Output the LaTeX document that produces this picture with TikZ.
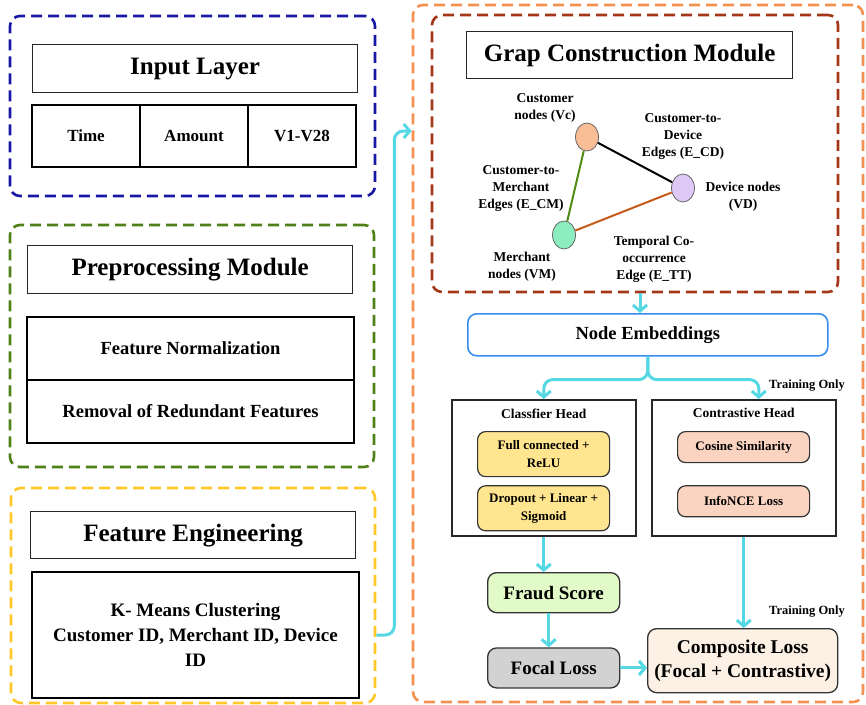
\documentclass[tikz,border=0pt]{standalone}
\usepackage{fontspec}
\setmainfont{Liberation Serif}
\usepackage{tikz}
\usetikzlibrary{shapes.geometric, arrows.meta, positioning, fit, calc}

\definecolor{inblue}{RGB}{24,24,165}
\definecolor{pregreen}{RGB}{78,130,24}
\definecolor{feyellow}{RGB}{255,200,40}
\definecolor{outorange}{RGB}{245,145,80}
\definecolor{graphbrown}{RGB}{165,55,25}
\definecolor{flowcyan}{RGB}{85,215,228}
\definecolor{embblue}{RGB}{55,140,240}
\definecolor{yfill}{RGB}{255,229,143}
\definecolor{pfill}{RGB}{250,212,192}
\definecolor{fsfill}{RGB}{226,250,200}
\definecolor{focalfill}{RGB}{210,210,210}
\definecolor{compfill}{RGB}{253,241,229}
\definecolor{custfill}{RGB}{250,190,150}
\definecolor{devfill}{RGB}{222,200,245}
\definecolor{merfill}{RGB}{140,238,190}
\definecolor{edgegreen}{RGB}{80,140,20}
\definecolor{edgeorange}{RGB}{200,90,25}

\begin{document}
\begin{tikzpicture}[
        x=1pt, y=-1pt, font=\bfseries,
        group/.style={rectangle, draw=#1, line width=2.6pt, dash pattern=on 11pt off 6pt, rounded corners=10pt, inner sep=0pt},
        titlebox/.style={rectangle, draw=black!85, line width=1.3pt, inner sep=0pt, anchor=north west, font=\bfseries\fontsize{25}{28}\selectfont},
        cell/.style={rectangle, draw=black, line width=2pt, inner sep=0pt, outer sep=0pt, minimum width=108pt, minimum height=62pt, font=\bfseries\fontsize{17}{20}\selectfont},
        rowbox/.style={rectangle, draw=black, line width=2pt, inner sep=0pt, outer sep=0pt, align=center, font=\bfseries\fontsize{18.5}{25}\selectfont},
        gnode/.style={ellipse, draw=black!60, line width=0.8pt, minimum width=23pt, minimum height=28pt, inner sep=0pt},
        glabel/.style={align=center, font=\bfseries\fontsize{13.5}{17}\selectfont},
        headbox/.style={rectangle, draw=black!85, line width=1.5pt, anchor=north west, minimum width=184pt, minimum height=136pt},
        headtitle/.style={font=\bfseries\fontsize{13.5}{16}\selectfont},
        inbox/.style={rectangle, rounded corners=8pt, draw=black!80, line width=1.2pt, align=center, minimum width=132pt, font=\bfseries\fontsize{13}{18}\selectfont},
        outbox/.style={rectangle, rounded corners=9pt, draw=black!80, line width=1.3pt, align=center, font=\bfseries\fontsize{19}{24}\selectfont},
        tonly/.style={font=\bfseries\fontsize{12.5}{14}\selectfont},
        flow/.style={-{Straight Barb[length=6pt, width=14pt]}, line width=3pt, draw=flowcyan}
    ]
        \useasboundingbox (0,0) rectangle (866,704);

        % Input Layer
        \node[titlebox, minimum width=325pt, minimum height=48pt] (inputtitle) at (32,44) {Input Layer};
        \node[cell, anchor=north west] (time) at (32,105) {Time};
        \node[cell, right=0pt of time] (amount) {Amount};
        \node[cell, right=0pt of amount] (vfeat) {V1-V28};
        \node[group=inblue, fit={(10,16) (375,196)}] (inputgrp) {};

        % Preprocessing
        \node[titlebox, minimum width=325pt, minimum height=48pt] (pretitle) at (27,245) {Preprocessing Module};
        \node[rowbox, anchor=north west, minimum width=327pt, minimum height=63pt] (fnorm) at (27,317) {Feature Normalization};
        \node[rowbox, below=0pt of fnorm, minimum width=327pt, minimum height=63pt] (redund) {Removal of Redundant Features};
        \node[group=pregreen, fit={(10,225) (374,467)}] (pregrp) {};

        % Feature Engineering
        \node[titlebox, minimum width=325pt, minimum height=47pt] (fetitle) at (30,511) {Feature Engineering};
        \node[rowbox, anchor=north west, minimum width=327pt, minimum height=126pt, font=\bfseries\fontsize{19}{25}\selectfont] (kmeans) at (32,572) {K- Means Clustering\\Customer ID, Merchant ID, Device\\ID};
        \node[group=feyellow, fit={(11,488) (375,703)}] (fegrp) {};

        % Model side
        \node[group=outorange, fit={(413,5) (863,702)}] (modelgrp) {};
        \coordinate (modelin) at (413,131);
        \draw[flow, rounded corners=9pt] (fegrp.east |- kmeans.east) -- ++(18,0) |- (modelgrp.west |- modelin);

        % Graph construction
        \node[group=graphbrown, fit={(432,15) (838,292)}] (graphgrp) {};
        \node[titlebox, minimum width=326pt, minimum height=47pt] (graphtitle) at (466,31) {Grap Construction Module};
        \node[gnode, fill=custfill] (cust) at (587,137) {};
        \node[gnode, fill=devfill] (dev) at (683,188) {};
        \node[gnode, fill=merfill] (merch) at (564,235) {};
        \draw[line width=2pt] (cust) -- (dev);
        \draw[line width=2pt, draw=edgegreen] (cust) -- (merch);
        \draw[line width=2pt, draw=edgeorange] (merch) -- (dev);
        \node[glabel] (custlbl) at (545,108) {Customer\\nodes (Vc)};
        \node[glabel] (cdlbl) at (683,137) {Customer-to-\\Device\\Edges (E\_CD)};
        \node[glabel] (devlbl) at (743,197) {Device nodes\\(VD)};
        \node[glabel] (cmlbl) at (521,189) {Customer-to-\\Merchant\\Edges (E\_CM)};
        \node[glabel] (merlbl) at (522,267) {Merchant\\nodes (VM)};
        \node[glabel] (ttlbl) at (654,259) {Temporal Co-\\occurrence\\Edge (E\_TT)};

        % Embeddings
        \node[rectangle, rounded corners=9pt, draw=embblue, line width=1.6pt, anchor=north west, minimum width=360pt, minimum height=42pt, font=\bfseries\fontsize{18.5}{22}\selectfont] (embed) at (467,313) {Node Embeddings};
        \draw[flow] ([xshift=5pt]graphgrp.south) -- ([xshift=5pt]graphgrp.south |- embed.north);

        % Heads
        \node[headbox] (clshead) at (451,399) {};
        \node[headtitle, below=6pt of clshead.north] (clstitle) {Classfier Head};
        \node[inbox, fill=yfill, anchor=north west, minimum height=45pt] (fc) at (477,431) {Full connected +\\ReLU};
        \node[inbox, fill=yfill, below=8pt of fc, minimum height=45pt] (drop) {Dropout + Linear +\\Sigmoid};

        \node[headbox] (conhead) at (651,399) {};
        \node[headtitle, below=6pt of conhead.north] (contitle) {Contrastive Head};
        \node[inbox, fill=pfill, anchor=north west, minimum height=31pt] (cosine) at (677,431) {Cosine Similarity};
        \node[inbox, fill=pfill, below=22pt of cosine, minimum height=31pt] (infonce) {InfoNCE Loss};

        \draw[flow, rounded corners=9pt] (embed.south) -- ++(0,23) -| (clshead.north);
        \draw[flow, rounded corners=9pt] (embed.south) -- ++(0,23) -| ([xshift=15pt]conhead.north);
        \node[tonly] (tonly1) at (807,386) {Training Only};

        % Losses
        \node[outbox, fill=fsfill, anchor=north west, minimum width=132pt, minimum height=40pt] (fraud) at (487,572) {Fraud Score};
        \node[outbox, fill=focalfill, below=34pt of fraud, minimum width=132pt, minimum height=40pt] (focal) {Focal Loss};
        \node[outbox, fill=compfill, anchor=north west, minimum width=190pt, minimum height=64pt, font=\bfseries\fontsize{19.5}{24}\selectfont] (composite) at (647,628) {Composite Loss\\(Focal + Contrastive)};
        \node[tonly] (tonly2) at (807,612) {Training Only};

        \draw[flow] (clshead.south) -- (clshead.south |- fraud.north);
        \draw[flow] ([xshift=-5pt]fraud.south) -- ([xshift=-5pt]focal.north);
        \draw[flow] (focal.east) -- (focal.east -| composite.west);
        \draw[flow] (conhead.south) -- (conhead.south |- composite.north);

    \end{tikzpicture}
\end{document}
